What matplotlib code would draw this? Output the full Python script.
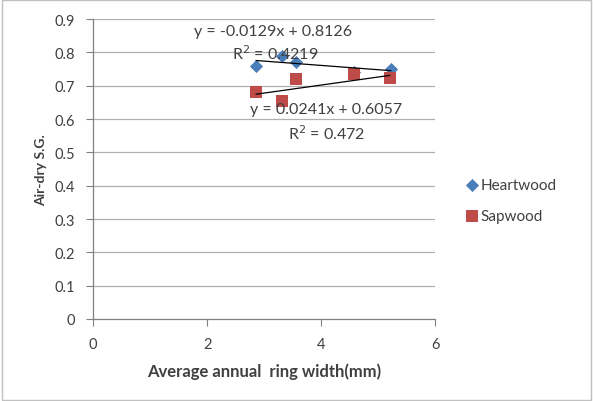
import matplotlib
matplotlib.use("Agg")
import matplotlib.pyplot as plt
import numpy as np

plt.rcParams['font.family'] = ['Lato', 'DejaVu Sans']

heart_x = [2.86, 3.31, 3.56, 4.58, 5.22]
heart_y = [0.76, 0.79, 0.77, 0.74, 0.75]
sap_x = [2.86, 3.31, 3.56, 4.58, 5.20]
sap_y = [0.682, 0.655, 0.72, 0.735, 0.722]
heart_fit = (-0.0129, 0.8126)
sap_fit = (0.0241, 0.6057)
xticks = [0, 2, 4, 6]
yticks = [0, 0.1, 0.2, 0.3, 0.4, 0.5, 0.6, 0.7, 0.8, 0.9]

fig = plt.figure(figsize=(5.93, 4.02), dpi=100)
ax = fig.add_axes([0.157, 0.204, 0.577, 0.746])

grid_c = '#b0b0b0'
for y in yticks[1:]:
    ax.axhline(y, color=grid_c, lw=0.9, zorder=0)

ax.scatter(heart_x, heart_y, marker='D', s=45, color='#4a7ebb', zorder=3, label='Heartwood', linewidths=0)
ax.scatter(sap_x, sap_y, marker='s', s=80, color='#be4b48', zorder=4, label='Sapwood', linewidths=0)

hx = np.array([min(heart_x), max(heart_x)])
ax.plot(hx, heart_fit[0] * hx + heart_fit[1], color='black', lw=0.9, zorder=5)
sx = np.array([min(sap_x), max(sap_x)])
ax.plot(sx, sap_fit[0] * sx + sap_fit[1], color='black', lw=0.9, zorder=5)

tc = '#404040'
fs = 11.5
ax.text(3.16, 0.865, 'y = -0.0129x + 0.8126', ha='center', va='center', fontsize=fs, color=tc, zorder=6)
ax.text(3.2, 0.80, 'R$^2$ = 0.4219', ha='center', va='center', fontsize=fs, color=tc, zorder=6)
ax.text(4.09, 0.63, 'y = 0.0241x + 0.6057', ha='center', va='center', fontsize=fs, color=tc, zorder=6)
ax.text(4.1, 0.56, 'R$^2$ = 0.472', ha='center', va='center', fontsize=fs, color=tc, zorder=6)

ax.set_xlim(0, 6)
ax.set_ylim(0, 0.9)
ax.set_xticks(xticks)
ax.set_yticks(yticks)
ax.set_yticklabels(['0', '0.1', '0.2', '0.3', '0.4', '0.5', '0.6', '0.7', '0.8', '0.9'])
ax.tick_params(direction='out', length=5, color='#808080', labelsize=10.5, labelcolor=tc, pad=8)
for s in ['top', 'right']:
    ax.spines[s].set_visible(False)
for s in ['left', 'bottom']:
    ax.spines[s].set_color('#808080')
    ax.spines[s].set_linewidth(0.9)

ax.set_xlabel('Average annual  ring width(mm)', fontsize=12, fontweight='bold', color=tc, labelpad=8)
ax.set_ylabel('Air-dry S.G.', fontsize=10, fontweight='bold', color=tc, labelpad=5)

leg = ax.legend(loc='center left', bbox_to_anchor=(1.045, 0.395), frameon=False, fontsize=11,
                labelspacing=1.1, handletextpad=0.05, handlelength=1.0)
for t in leg.get_texts():
    t.set_color(tc)

fig.patches.append(matplotlib.patches.Rectangle((0.003, 0.003), 0.994, 0.994, transform=fig.transFigure,
                                                fill=False, edgecolor='#c0c0c0', lw=1))

fig.savefig('out.png', dpi=100)
